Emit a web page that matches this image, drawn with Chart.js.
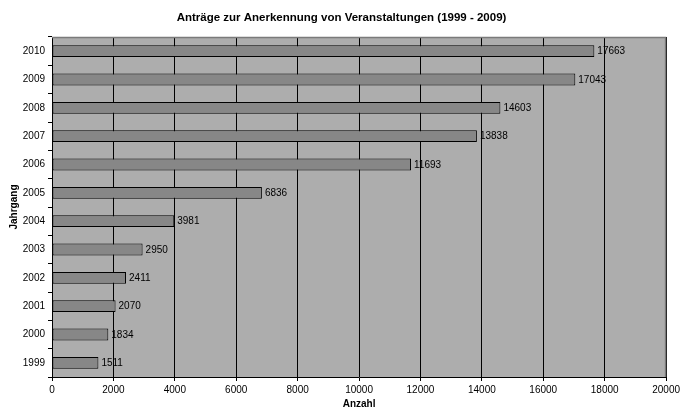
<!DOCTYPE html>
<html lang="de">
<head>
<meta charset="utf-8">
<script src="https://cdn.jsdelivr.net/npm/chart.js"></script>
<style>
  html, body { margin: 0; padding: 0; background: #fff; }
  #wrap { width: 683px; height: 410px; }
</style>
</head>
<body>
<div id="wrap"><canvas id="chart" width="683" height="410"></canvas></div>
<script>
// data
const years = ['1999', '2000', '2001', '2002', '2003', '2004', '2005', '2006', '2007', '2008', '2009', '2010'];
const antraege = [1511, 1834, 2070, 2411, 2950, 3981, 6836, 11693, 13838, 14603, 17043, 17663];
const xTicks = [0, 2000, 4000, 6000, 8000, 10000, 12000, 14000, 16000, 18000, 20000];

const FONT = 'Liberation Sans, Arial, sans-serif';

// grey plot area with darker frame on top/right
const plotArea = {
  id: 'plotArea',
  beforeDraw(chart) {
    const { ctx, chartArea: a } = chart;
    ctx.save();
    ctx.fillStyle = '#adadad';
    ctx.fillRect(a.left, a.top, a.right - a.left, a.bottom - a.top);
    ctx.restore();
  },
  afterDatasetsDraw(chart) {
    const { ctx, chartArea: a } = chart;
    ctx.save();
    ctx.strokeStyle = '#7a7a7a';
    ctx.lineWidth = 1.5;
    ctx.beginPath();
    ctx.moveTo(a.left, a.top + 0.5);
    ctx.lineTo(a.right - 0.5, a.top + 0.5);
    ctx.lineTo(a.right - 0.5, a.bottom);
    ctx.stroke();
    ctx.restore();
  }
};

// value labels right of each bar
const barLabels = {
  id: 'barLabels',
  afterDatasetsDraw(chart) {
    const { ctx } = chart;
    const meta = chart.getDatasetMeta(0);
    ctx.save();
    ctx.font = '10px ' + FONT;
    ctx.fillStyle = '#000';
    ctx.textAlign = 'left';
    ctx.textBaseline = 'middle';
    meta.data.forEach((bar, i) => {
      ctx.fillText(String(antraege[i]), bar.x + 3, bar.y + 0.5);
    });
    ctx.restore();
  }
};

new Chart(document.getElementById('chart'), {
  type: 'bar',
  data: {
    labels: years,
    datasets: [{
      data: antraege,
      backgroundColor: '#878787',
      borderColor: '#000',
      borderWidth: 1,
      borderSkipped: false,
      categoryPercentage: 1,
      barPercentage: 0.42
    }]
  },
  options: {
    indexAxis: 'y',
    responsive: false,
    animation: false,
    layout: { padding: 0 },
    plugins: {
      legend: { display: false },
      tooltip: { enabled: false },
      title: {
        display: true,
        text: 'Anträge zur Anerkennung von Veranstaltungen (1999 - 2009)',
        color: '#000',
        font: { family: FONT, size: 11.5, weight: 'bold', lineHeight: 1.2 },
        padding: { top: 10.5, bottom: 12.7 }
      }
    },
    scales: {
      x: {
        min: 0,
        max: 20000,
        afterBuildTicks(scale) { scale.ticks = xTicks.map(v => ({ value: v })); },
        afterFit(scale) { scale.height = 33; },
        grid: {
          color: '#000',
          lineWidth: 1,
          tickLength: 4,
          drawOnChartArea: true
        },
        border: { color: '#000', width: 1 },
        ticks: {
          color: '#000',
          padding: 3,
          font: { family: FONT, size: 10 },
          maxRotation: 0,
          callback: v => String(v)
        },
        title: {
          display: true,
          text: 'Anzahl',
          color: '#000',
          font: { family: FONT, size: 10, weight: 'bold' },
          padding: { top: 0, bottom: 0 }
        }
      },
      y: {
        reverse: true,
        offset: true,
        afterFit(scale) { scale.width = 52; },
        grid: {
          offset: true,
          drawOnChartArea: false,
          color: '#000',
          tickLength: 4
        },
        border: { color: '#000', width: 1 },
        ticks: {
          color: '#000',
          padding: 3,
          font: { family: FONT, size: 10 }
        },
        title: {
          display: true,
          text: 'Jahrgang',
          color: '#000',
          font: { family: FONT, size: 10, weight: 'bold' },
          padding: { top: 8, bottom: 0 }
        }
      },
      // empty right-hand margin so the title stays centred on the full width
      yRight: {
        type: 'linear',
        position: 'right',
        afterFit(scale) { scale.width = 15; },
        grid: { display: false },
        border: { display: false },
        ticks: { display: false }
      }
    }
  },
  plugins: [plotArea, barLabels]
});
</script>
</body>
</html>
